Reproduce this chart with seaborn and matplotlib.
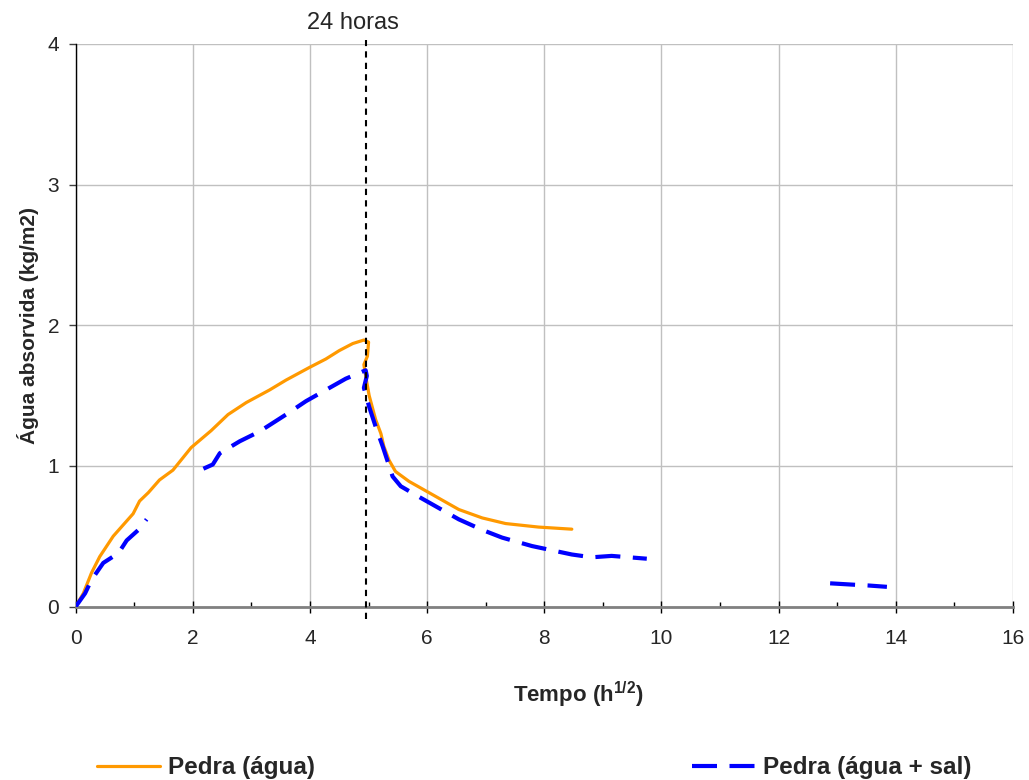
import numpy as np
import pandas as pd
import matplotlib
matplotlib.use('Agg')
import matplotlib.pyplot as plt
import seaborn as sns

# --- dados ---
agua_x = [0.0, 0.13, 0.27, 0.41, 0.64, 0.98, 1.09, 1.24, 1.43, 1.66, 1.97, 2.31, 2.60,
          2.91, 3.31, 3.59, 3.99, 4.27, 4.50, 4.73, 4.92, 5.00, 4.98, 4.92, 4.95, 5.01,
          5.12, 5.21, 5.26, 5.35, 5.46, 5.69, 6.03, 6.54, 6.94, 7.34, 7.90, 8.47]
agua_y = [0.0, 0.094, 0.24, 0.355, 0.50, 0.66, 0.75, 0.81, 0.90, 0.97, 1.13, 1.25, 1.365,
          1.45, 1.54, 1.61, 1.70, 1.76, 1.82, 1.87, 1.895, 1.88, 1.78, 1.72, 1.64, 1.50,
          1.33, 1.23, 1.14, 1.04, 0.96, 0.89, 0.81, 0.69, 0.63, 0.59, 0.565, 0.55]

# NaN = falha na série (linha interrompida)
sal_x = [0.0, 0.16, 0.27, 0.47, 0.73, 0.87, 1.07, 1.21, np.nan,
         2.18, 2.34, 2.46, 2.80, 3.14, 3.59, 3.93, 4.27, 4.61, 4.95, 4.97, 4.92, 5.01,
         5.12, 5.24, 5.41, 5.55, 5.86, 6.20, 6.54, 6.94, 7.28, 7.79, 8.13, 8.47, 8.81,
         9.15, 9.75, np.nan,
         12.88, 13.29, 13.52, 13.85]
sal_y = [0.0, 0.094, 0.19, 0.31, 0.38, 0.47, 0.545, 0.62, np.nan,
         0.98, 1.01, 1.09, 1.175, 1.245, 1.365, 1.46, 1.54, 1.62, 1.68, 1.64, 1.555, 1.42,
         1.28, 1.14, 0.925, 0.855, 0.78, 0.70, 0.62, 0.545, 0.49, 0.43, 0.40, 0.37, 0.35,
         0.36, 0.34, np.nan,
         0.165, 0.155, 0.15, 0.14]

x_24h = 4.95  # linha de 24 horas

df_agua = pd.DataFrame({'x': agua_x, 'y': agua_y})
df_sal = pd.DataFrame({'x': sal_x, 'y': sal_y})
df_sal['seg'] = df_sal['x'].isna().cumsum()
df_sal = df_sal.dropna()

sns.set_theme(style='whitegrid')
plt.rcParams['font.family'] = ['Liberation Sans', 'DejaVu Sans']
plt.rcParams['mathtext.fontset'] = 'custom'
plt.rcParams['mathtext.rm'] = 'Liberation Sans'
plt.rcParams['mathtext.bf'] = 'Liberation Sans:bold'

fig = plt.figure(figsize=(10.29, 7.80), dpi=100)
ax = fig.add_axes([0.0736, 0.2224, 0.9107, 0.7212])

sns.lineplot(data=df_agua, x='x', y='y', sort=False, estimator=None, ax=ax,
             color='#FF9900', linewidth=2.3, label='Pedra (água)', zorder=3)

primeiro = True
for seg, d in df_sal.groupby('seg'):
    sns.lineplot(data=d, x='x', y='y', sort=False, estimator=None, ax=ax,
                 color='#0000FF', linewidth=3.0,
                 label='Pedra (água + sal)' if primeiro else None, zorder=4)
    primeiro = False
for ln in ax.get_lines():
    if ln.get_color() == '#0000FF':
        ln.set_dashes((6, 3))

ax.plot([x_24h, x_24h], [-0.09, 4.03], color='black', linestyle=(0, (3, 2.5)),
        linewidth=1.5, clip_on=False, zorder=5)
ax.text(x_24h - 0.21, 4.15, '24 horas', ha='center', va='center', fontsize=17)

ax.set_xlim(0, 16)
ax.set_ylim(0, 4)
ax.set_xticks(np.arange(0, 17, 2))
ax.set_xticks(np.arange(1, 16, 2), minor=True)
ax.set_yticks(np.arange(0, 5, 1))

ax.grid(True, which='major', color='#c0c0c0', linewidth=1.0)
ax.grid(False, which='minor')
ax.set_axisbelow(True)

for s in ['top', 'right']:
    ax.spines[s].set_visible(False)
ax.spines['left'].set_color('black')
ax.spines['left'].set_linewidth(1.0)
ax.spines['bottom'].set_color('#808080')
ax.spines['bottom'].set_linewidth(2.0)

ax.tick_params(axis='x', which='major', direction='inout', length=8, width=1.0,
               color='black', pad=12, labelsize=15, bottom=True)
ax.tick_params(axis='x', which='minor', direction='in', length=3.5, width=1.0,
               color='black', bottom=True)
ax.tick_params(axis='y', which='major', direction='out', length=5, width=1.0,
               color='#404040', pad=7, labelsize=15, left=True)

ax.set_xlabel(r'Tempo (h$^{\mathbf{1/2}}$)', fontsize=16, fontweight='bold')
ax.xaxis.set_label_coords(0.536, -0.13)
ax.set_ylabel('Água absorvida (kg/m2)', fontsize=15, fontweight='bold', labelpad=6)

ax.get_legend().remove()
handles, labels = ax.get_legend_handles_labels()
fig.legend(handles, labels, loc='center', bbox_to_anchor=(0.519, 0.016), ncol=2,
           frameon=False, handlelength=2.6, handletextpad=0.33,
           columnspacing=15.5, prop={'weight': 'bold', 'size': 17.5})

fig.savefig('out.png', dpi=100)
